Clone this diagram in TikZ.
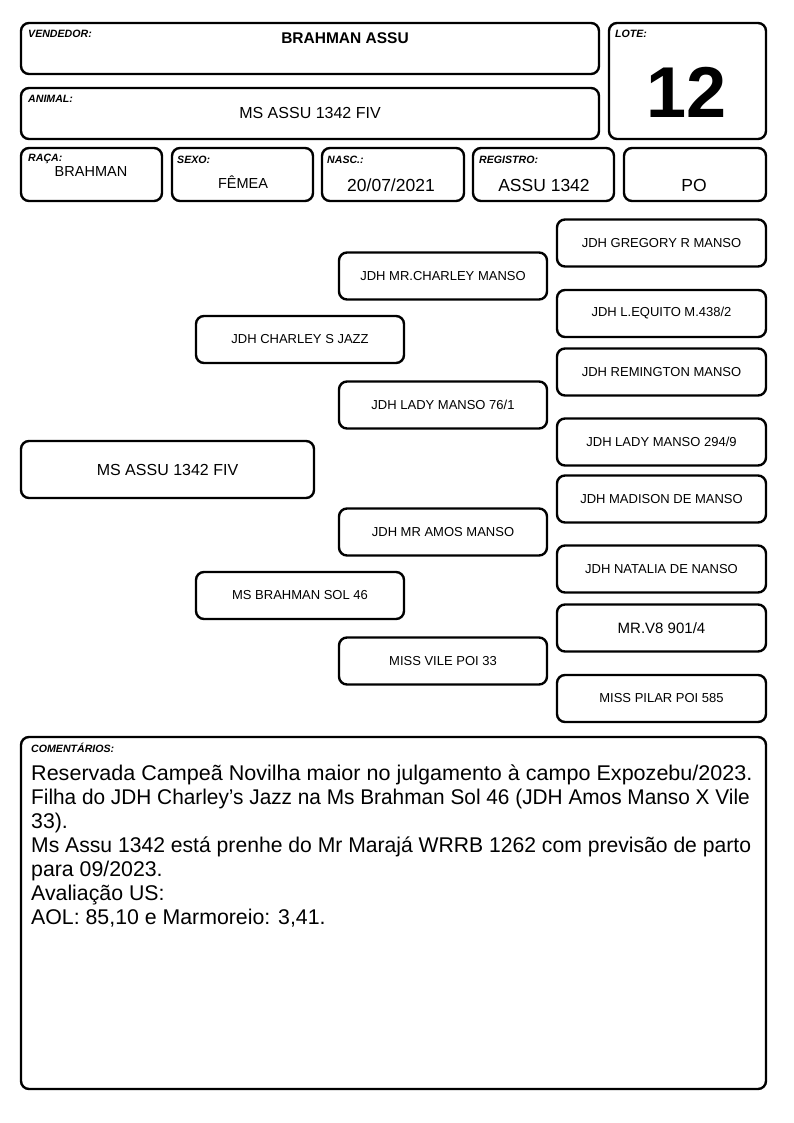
\documentclass[tikz,border=0pt]{standalone}
\usepackage{graphicx}
\usepackage{fontspec}
\setmainfont{Liberation Sans}
\begin{document}
\begin{tikzpicture}[x=1pt,y=-1pt,
  box/.style={draw=black, line width=2.4pt, rounded corners=8pt, inner sep=0pt, fill=white},
  lbl/.style={font=\fontsize{10.6}{12}\selectfont\bfseries\itshape, inner sep=0pt, anchor=base west},
  ped/.style={box, font=\fontsize{13}{15}\selectfont, minimum width=208, minimum height=47},
  val/.style={inner sep=0pt, anchor=base},
  cline/.style={inner sep=0pt, anchor=base west, font=\fontsize{21.3}{24}\selectfont}]
\useasboundingbox[fill=white] (0,0) rectangle (794,1123);
% header boxes
\node[box, minimum width=578, minimum height=51] (vend) at (310,48.5) {};
\node[box, minimum width=578, minimum height=51] (anim) at (310,113.5) {};
\node[box, minimum width=157, minimum height=116] (lote) at (687.5,81) {};
\node[box, minimum width=141, minimum height=53] (raca) at (91.5,174.5) {};
\node[box, minimum width=141, minimum height=53] (sexo) at (242.5,174.5) {};
\node[box, minimum width=142, minimum height=53] (nasc) at (393,174.5) {};
\node[box, minimum width=141, minimum height=53] (reg) at (543.5,174.5) {};
\node[box, minimum width=142, minimum height=53] (po) at (695,174.5) {};
% labels
\node[lbl] (lvend) at (28,38) {VENDEDOR:};
\node[lbl] (lanim) at (28,103) {ANIMAL:};
\node[lbl] (llote) at (615,38) {LOTE:};
\node[lbl] (lraca) at (28,162) {RAÇA:};
\node[lbl] (lsexo) at (177,164) {SEXO:};
\node[lbl] (lnasc) at (327,164) {NASC.:};
\node[lbl] (lreg) at (479,164) {REGISTRO:};
% values
\node[val, font=\fontsize{15.5}{18}\selectfont\bfseries] (vvend) at (345,44) {BRAHMAN ASSU};
\node[val, font=\fontsize{16}{18}\selectfont] (vanim) at (310,119) {MS ASSU 1342 FIV};
\node[val, font=\fontsize{72}{80}\selectfont\bfseries] (vlote) at (687,118) {12};
\node[val, font=\fontsize{14.5}{17}\selectfont] (vraca) at (91,177) {BRAHMAN};
\node[val, font=\fontsize{14.5}{17}\selectfont] (vsexo) at (243,189) {FÊMEA};
\node[val, font=\fontsize{17.5}{20}\selectfont] (vnasc) at (391,192) {20/07/2021};
\node[val, font=\fontsize{17.5}{20}\selectfont] (vreg) at (544,192) {ASSU 1342};
\node[val, font=\fontsize{17.5}{20}\selectfont] (vpo) at (694,192) {PO};
% pedigree
\node[box, font=\fontsize{16}{18}\selectfont, minimum width=293, minimum height=57] (a) at (167.5,469.5) {MS ASSU 1342 FIV};
\node[ped] (s) at (300,339.5) {JDH CHARLEY S JAZZ};
\node[ped] (d) at (300,595.5) {MS BRAHMAN SOL 46};
\node[ped] (ss) at (443,276) {JDH MR.CHARLEY MANSO};
\node[ped] (sd) at (443,405) {JDH LADY MANSO 76/1};
\node[ped] (ds) at (443,532) {JDH MR AMOS MANSO};
\node[ped] (dd) at (443,661) {MISS VILE POI 33};
\node[ped, minimum width=209] (sss) at (661.5,243) {JDH GREGORY R MANSO};
\node[ped, minimum width=209] (ssd) at (661.5,313.5) {JDH L.EQUITO M.438/2};
\node[ped, minimum width=209] (sds) at (661.5,372) {JDH REMINGTON MANSO};
\node[ped, minimum width=209] (sdd) at (661.5,442) {JDH LADY MANSO 294/9};
\node[ped, minimum width=209] (dss) at (661.5,499) {JDH MADISON DE MANSO};
\node[ped, minimum width=209] (dsd) at (661.5,569) {JDH NATALIA DE NANSO};
\node[ped, minimum width=209, font=\fontsize{15}{17}\selectfont] (dds) at (661.5,628) {MR.V8 901/4};
\node[ped, minimum width=209] (ddd) at (661.5,698.5) {MISS PILAR POI 585};
% comments
\node[box, minimum width=745, minimum height=352] (com) at (393.5,913) {};
\node[lbl] (lcom) at (31,752) {COMENTÁRIOS:};
\node[cline] (c1) at (31,780) {\scalebox{1.012}[1]{Reservada Campeã Novilha maior no julgamento à campo Expozebu/2023.}};
\node[cline] (c2) at (31,804) {\scalebox{0.977}[1]{Filha do JDH Charley’s Jazz na Ms Brahman Sol 46 (JDH Amos Manso X Vile}};
\node[cline] (c3) at (31,828) {33).};
\node[cline] (c4) at (31,852) {\scalebox{0.992}[1]{Ms Assu 1342 está prenhe do Mr Marajá WRRB 1262 com previsão de parto}};
\node[cline] (c5) at (31,876) {para 09/2023.};
\node[cline] (c6) at (31,900) {Avaliação US:};
\node[cline] (c7) at (31,924) {AOL: 85,10 e Marmoreio: 3,41.};
\end{tikzpicture}
\end{document}
